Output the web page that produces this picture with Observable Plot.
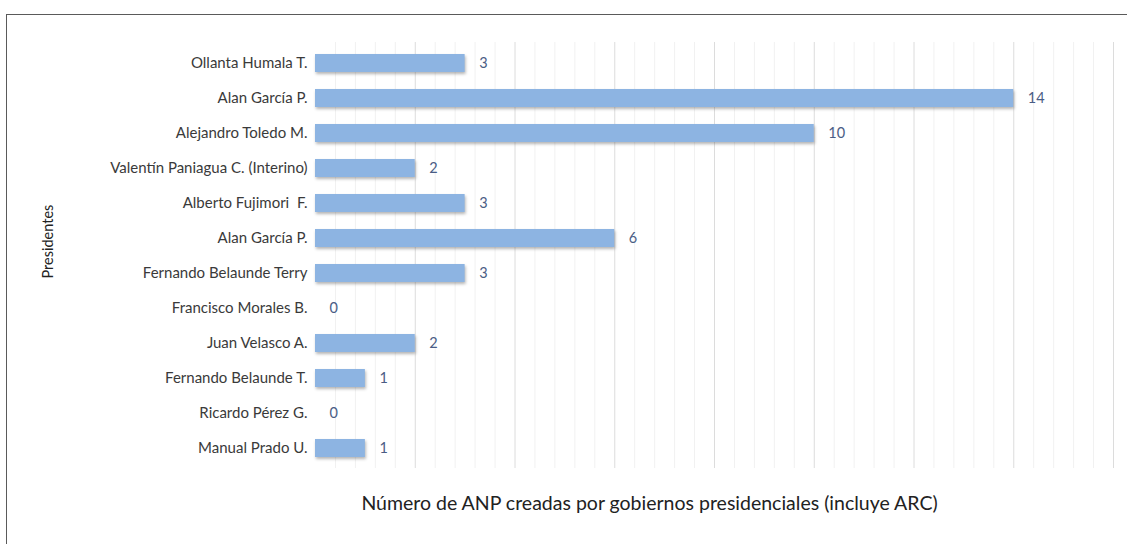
<!DOCTYPE html>
<html>
<head>
<meta charset="utf-8">
<script src="https://cdn.jsdelivr.net/npm/d3@7"></script>
<script src="https://cdn.jsdelivr.net/npm/@observablehq/plot@0.6"></script>
<style>
  html, body { margin: 0; padding: 0; background: #fff; overflow: hidden; }
  #wrap { position: relative; width: 1127px; height: 544px; }
  #frame { position: absolute; left: 6px; top: 14px; width: 1200px; height: 600px;
           border-left: 1.5px solid #5a5a5a; border-top: 1.5px solid #5a5a5a; }
  #chart { position: absolute; left: 0; top: 0; }
  .bars rect { filter: drop-shadow(1px 2px 1.5px rgba(90,90,90,0.45)); }
</style>
</head>
<body>
<div id="wrap"><div id="frame"></div><div id="chart"></div></div>
<script>
const presidents = [
  "Ollanta Humala T.",
  "Alan García P.",
  "Alejandro Toledo M.",
  "Valentín Paniagua C. (Interino)",
  "Alberto Fujimori  F.",
  "Alan García P.",
  "Fernando Belaunde Terry",
  "Francisco Morales B.",
  "Juan Velasco A.",
  "Fernando Belaunde T.",
  "Ricardo Pérez G.",
  "Manual Prado U."
];
const anpCount = [3, 14, 10, 2, 3, 6, 3, 0, 2, 1, 0, 1];
const majorTicks = [0, 2, 4, 6, 8, 10, 12, 14, 16];
const minorTicks = d3.range(0, 16.01, 0.4).filter(v => Math.abs(v / 2 - Math.round(v / 2)) > 1e-6);
const xTitle = "Número de ANP creadas por gobiernos presidenciales (incluye ARC)";
const yTitle = "Presidentes";

const data = presidents.map((name, i) => ({i, name, value: anpCount[i]}));
const font = "Lato, 'Open Sans', sans-serif";

const chart = Plot.plot({
  width: 1127,
  height: 544,
  marginLeft: 315,
  marginRight: 14,
  marginTop: 42,
  marginBottom: 76,
  style: {fontFamily: font, background: "transparent", overflow: "visible"},
  x: {domain: [0, 16], axis: null},
  y: {domain: d3.range(presidents.length), paddingInner: 0.49, paddingOuter: 0.2535, axis: null},
  marks: [
    Plot.ruleX(minorTicks, {stroke: "#f1f1f1", strokeWidth: 1}),
    Plot.ruleX(majorTicks.slice(1), {stroke: "#dcdcdc", strokeWidth: 1}),
    Plot.barX(data, {x: "value", y: "i", fill: "#8db4e2", className: "bars"}),
    Plot.text(data, {x: "value", y: "i", text: d => String(d.value), dx: 14, textAnchor: "start",
      fill: "#4a5d85", fontSize: 14.5, fontFamily: font}),
    Plot.axisY({tickSize: 0, tickPadding: 8, tickFormat: i => presidents[i], fontSize: 15,
      color: "#3a3a3a", label: null}),
    Plot.text([xTitle], {frameAnchor: "bottom", dx: -65, dy: 41, fontSize: 19.5, fill: "#222",
      fontFamily: font}),
    Plot.text([yTitle], {frameAnchor: "left", dx: -267, dy: 23, rotate: -90, fontSize: 14.5,
      fill: "#222", fontFamily: font})
  ]
});
document.getElementById("chart").appendChild(chart);
</script>
</body>
</html>
